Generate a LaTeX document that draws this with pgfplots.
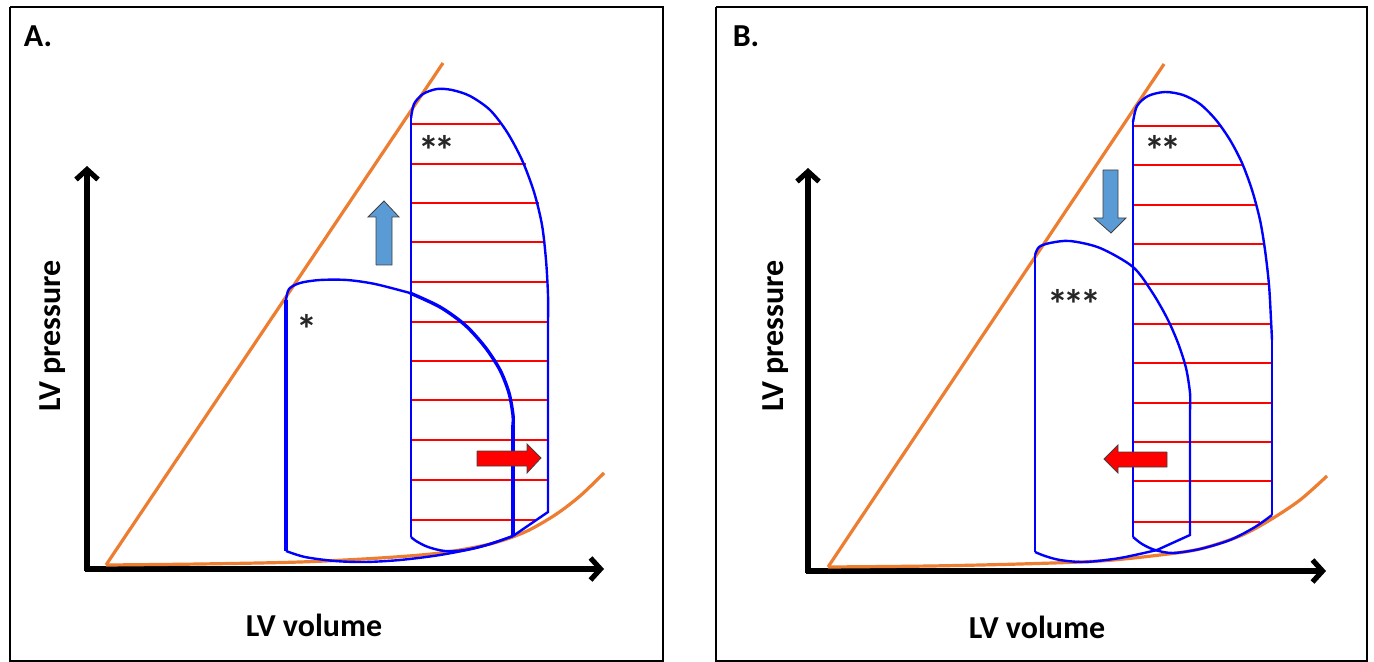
\documentclass[border=0pt]{standalone}
\usepackage{pgfplots}
\pgfplotsset{compat=1.18}
\usepackage{fontspec}
\setmainfont{Carlito}
\usetikzlibrary{arrows.meta}
\definecolor{loopblue}{RGB}{0,0,255}
\definecolor{pvorange}{RGB}{237,125,49}
\definecolor{hatchred}{RGB}{255,0,0}
\definecolor{arrowblue}{RGB}{91,155,213}
\newcommand{\stars}[1]{*\ifnum#1>1\kern-2.2pt*\fi\ifnum#1>2\kern-2.2pt*\fi}
\begin{document}
\begin{tikzpicture}[
  axisarrow/.style={black, line width=2.6pt, -{Straight Barb[length=5pt,width=11pt]}},
  lbl/.style={font=\fontsize{16}{19}\selectfont\bfseries},
  star/.style={font=\fontsize{21}{24}\selectfont\bfseries, text=black!85},
]
\begin{axis}[
  width=687pt, height=331pt, scale only axis,
  xmin=0, xmax=1374, ymin=0, ymax=662, y dir=reverse,
  hide axis, clip=false,
  unbounded coords=jump,
]
% page extent
\addplot[draw=none] coordinates {(0,0)(1374,662)};
% panel frames
\addplot[black, line width=1pt] coordinates {(10,7)(663,7)(663,661)(10,661)(10,7)};
\addplot[black, line width=1pt] coordinates {(716,7)(1367,7)(1367,661)(716,661)(716,7)};

% ---------------- panel A ----------------
\addplot[axisarrow] coordinates {(87,571)(87,166)};
\addplot[axisarrow] coordinates {(85,569)(604,569)};
% ESPVR and EDPVR
\addplot[pvorange, line width=1.6pt] coordinates {(106,565)(443,63)};
\addplot[pvorange, line width=1.6pt, smooth] coordinates {
  (106,565)(200,564)(300,562)(380,558)(440,553)(490,544)(525,532)(555,515)(580,496)(604,473)};
% hatch of the large loop
\addplot[hatchred, line width=1.2pt] coordinates {
  (411,124)(500,124) (nan,nan) (411,164)(526,164) (nan,nan) (411,203)(539,203) (nan,nan)
  (411,242)(545,242) (nan,nan) (411,282)(548,282) (nan,nan) (411,322)(548,322) (nan,nan)
  (411,361)(548,361) (nan,nan) (411,400)(548,400) (nan,nan) (411,440)(548,440) (nan,nan)
  (411,480)(548,480) (nan,nan) (411,520)(537,520)};
% large loop **
\addplot[loopblue, line width=1.2pt] coordinates {(411,537)(411,118)};
\addplot[loopblue, line width=1.2pt, smooth] coordinates {
  (411,118)(414,104)(423,94)(437,89)(452,90)(470,96)(490,110)(507,132)(522,160)
  (534,192)(542,225)(546,260)(548,295)(548,320)};
\addplot[loopblue, line width=1.2pt] coordinates {(548,320)(548,512)(513,536)};
\addplot[loopblue, line width=1.2pt, smooth] coordinates {
  (513,536)(490,544)(465,550)(445,551)(428,547)(416,541)(411,537)};
% small loop *
\addplot[loopblue, line width=1.9pt] coordinates {(286,551)(286,300)};
\addplot[loopblue, line width=1.2pt, smooth] coordinates {
  (286,300)(289,289)(300,283)(320,280)(347,280)(375,284)(410,293)};
\addplot[loopblue, line width=1.7pt, smooth] coordinates {
  (410,293)(440,307)(465,325)(485,347)(500,370)(509,393)(513,415)(513,425)};
\addplot[loopblue, line width=1.9pt] coordinates {(513,425)(513,536)};
\addplot[loopblue, line width=1.2pt, smooth] coordinates {
  (286,551)(305,557)(335,561)(365,562)(400,560)(440,555)(480,547)(513,536)};
% block arrows
\addplot[fill=arrowblue, draw=black!75, line width=0.4pt] coordinates {
  (376,265)(376,217)(368,217)(384,201)(399,217)(392,217)(392,265)(376,265)};
\addplot[fill=hatchred, draw=black!75, line width=0.4pt] coordinates {
  (477,451)(527,451)(527,444)(541,458)(527,473)(527,466)(477,466)(477,451)};
% text
\node[lbl] at (axis cs:38,36) {A.};
\node[lbl, rotate=90] at (axis cs:53,336) {LV pressure};
\node[lbl] at (axis cs:314,625) {LV volume};
\node[star] at (axis cs:437,150) {\stars{2}};
\node[star] at (axis cs:307,329) {\stars{1}};

% ---------------- panel B ----------------
\addplot[axisarrow] coordinates {(808,573)(808,168)};
\addplot[axisarrow] coordinates {(806,571)(1326,571)};
\addplot[pvorange, line width=1.6pt] coordinates {(828,567)(1164,64)};
\addplot[pvorange, line width=1.6pt, smooth] coordinates {
  (828,567)(930,566)(1020,564)(1100,561)(1160,555)(1200,549)(1240,536)(1270,520)(1300,500)(1327,476)};
\addplot[hatchred, line width=1.2pt] coordinates {
  (1133,126)(1220,126) (nan,nan) (1133,165)(1243,165) (nan,nan) (1133,205)(1256,205) (nan,nan)
  (1133,244)(1263,244) (nan,nan) (1133,284)(1269,284) (nan,nan) (1133,324)(1271,324) (nan,nan)
  (1133,363)(1272,363) (nan,nan) (1133,403)(1272,403) (nan,nan) (1133,442)(1272,442) (nan,nan)
  (1133,481)(1272,481) (nan,nan) (1133,522)(1260,522)};
% large loop **
\addplot[loopblue, line width=1.2pt] coordinates {(1133,537)(1133,122)};
\addplot[loopblue, line width=1.2pt, smooth] coordinates {
  (1133,122)(1137,106)(1148,96)(1165,92)(1183,95)(1200,104)(1216,120)(1230,140)(1242,163)
  (1252,190)(1260,220)(1265,250)(1269,285)(1271,320)(1272,340)};
\addplot[loopblue, line width=1.2pt] coordinates {(1272,340)(1272,515)};
\addplot[loopblue, line width=1.2pt, smooth] coordinates {
  (1272,515)(1255,527)(1230,540)(1200,549)(1173,553)(1155,550)(1142,544)(1133,537)};
% loop ***
\addplot[loopblue, line width=1.2pt] coordinates {(1035,552)(1035,255)};
\addplot[loopblue, line width=1.2pt, smooth] coordinates {
  (1035,255)(1039,247)(1050,243)(1070,241)(1100,248)(1133,267)(1152,292)(1167,318)
  (1178,343)(1186,368)(1190,393)(1190,410)};
\addplot[loopblue, line width=1.2pt] coordinates {(1190,410)(1190,535)(1157,550)};
\addplot[loopblue, line width=1.2pt, smooth] coordinates {
  (1157,550)(1120,558)(1085,562)(1060,560)(1045,556)(1035,552)};
% block arrows
\addplot[fill=arrowblue, draw=black!75, line width=0.4pt] coordinates {
  (1103,170)(1103,218)(1094,218)(1111,233)(1126,218)(1118,218)(1118,170)(1103,170)};
\addplot[fill=hatchred, draw=black!75, line width=0.4pt] coordinates {
  (1167,452)(1118,452)(1118,445)(1104,459)(1118,473)(1118,467)(1167,467)(1167,452)};
% text
\node[lbl] at (axis cs:746,36) {B.};
\node[lbl, rotate=90] at (axis cs:776,336) {LV pressure};
\node[lbl] at (axis cs:1037,627) {LV volume};
\node[star] at (axis cs:1163,150) {\stars{2}};
\node[star] at (axis cs:1074,304) {\stars{3}};
\end{axis}
\end{tikzpicture}
\end{document}
